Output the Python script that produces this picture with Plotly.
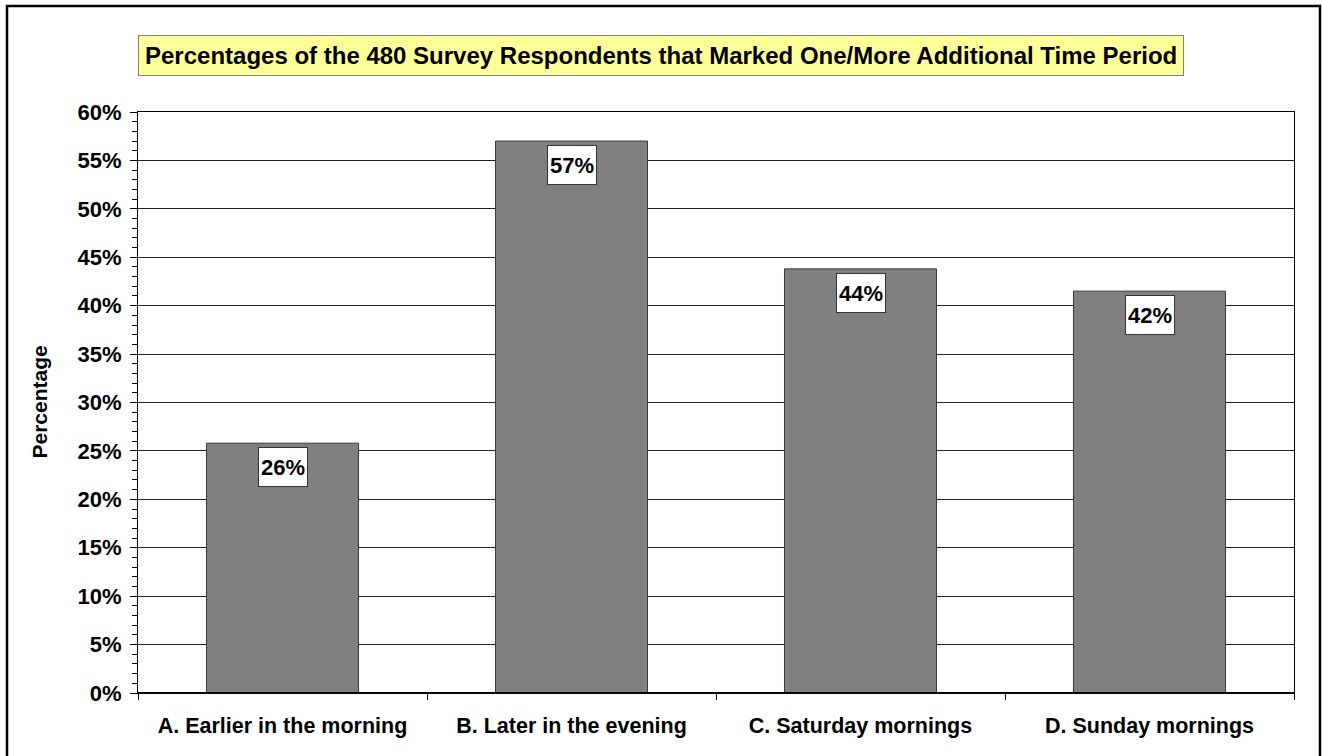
import plotly.graph_objects as go

# Survey results: share of the 480 respondents marking each extra time period
categories = [
    "A. Earlier in the morning",
    "B. Later in the evening",
    "C. Saturday mornings",
    "D. Sunday mornings",
]
percentages = [25.8, 57.0, 43.8, 41.5]

title_text = "Percentages of the 480 Survey Respondents that Marked One/More Additional Time Period"
y_title = "Percentage"
y_ticks = [0, 5, 10, 15, 20, 25, 30, 35, 40, 45, 50, 55, 60]

FONT = "Arial, 'Liberation Sans', Helvetica, sans-serif"
W, H = 1322, 756
ML, MR, MT, MB = 138, 28, 112, 63
PW = W - ML - MR
PH = H - MT - MB


def px_to_paper_x(px):
    return (px - ML) / PW


def px_to_paper_y(py):
    return (H - MB - py) / PH


def label_for(v):
    return f"{int(v + 0.5)}%"


fig = go.Figure()
fig.add_trace(
    go.Bar(
        x=categories,
        y=percentages,
        marker=dict(color="#808080", line=dict(color="#3a3a3a", width=1)),
        hoverinfo="skip",
    )
)

# Value labels in white boxes just inside the top of each bar
for cat, val in zip(categories, percentages):
    fig.add_annotation(
        x=cat,
        y=val,
        xref="x",
        yref="y",
        text=f"<b>{label_for(val)}</b>",
        showarrow=False,
        yanchor="top",
        yshift=-4,
        font=dict(family=FONT, size=22, color="black"),
        bgcolor="white",
        bordercolor="#333333",
        borderwidth=1,
        borderpad=1,
        width=46,
        height=36,
    )

# Title in a pale-yellow box
fig.add_annotation(
    x=px_to_paper_x(661),
    y=px_to_paper_y(55),
    xref="paper",
    yref="paper",
    text=f"<b>{title_text}</b>",
    showarrow=False,
    xanchor="center",
    yanchor="middle",
    font=dict(family=FONT, size=24, color="black"),
    bgcolor="#FFFF99",
    bordercolor="#808080",
    borderwidth=1,
    borderpad=6,
)

# Vertical axis title
fig.add_annotation(
    x=px_to_paper_x(39),
    y=0.5,
    xref="paper",
    yref="paper",
    text=f"<b>{y_title}</b>",
    textangle=-90,
    showarrow=False,
    xanchor="center",
    yanchor="middle",
    font=dict(family=FONT, size=21, color="black"),
)

# Outer chart frame
fig.add_shape(
    type="rect",
    xref="paper",
    yref="paper",
    x0=px_to_paper_x(7),
    x1=px_to_paper_x(1320),
    y0=px_to_paper_y(770),
    y1=px_to_paper_y(6),
    line=dict(color="black", width=2.5),
    fillcolor="rgba(0,0,0,0)",
    layer="below",
)

# Heavier baseline along the category axis
fig.add_shape(
    type="line",
    xref="paper",
    yref="y",
    x0=0,
    x1=1,
    y0=0,
    y1=0,
    line=dict(color="black", width=2),
)

fig.update_layout(
    width=W,
    height=H,
    margin=dict(l=ML, r=MR, t=MT, b=MB, pad=0),
    paper_bgcolor="white",
    plot_bgcolor="white",
    showlegend=False,
    bargap=0.474,
    font=dict(family=FONT, size=21, color="black"),
)

fig.update_xaxes(
    type="category",
    showline=True,
    linecolor="black",
    linewidth=1,
    mirror=True,
    ticks="outside",
    tickson="boundaries",
    ticklen=6,
    tickcolor="black",
    tickfont=dict(family=FONT, size=21.5, color="black", weight="bold"),
    ticklabelstandoff=13,
    showgrid=False,
)

fig.update_yaxes(
    range=[0, 60],
    tickvals=y_ticks,
    ticktext=[f"{t}%" for t in y_ticks],
    showline=True,
    linecolor="black",
    linewidth=1,
    mirror=True,
    ticks="outside",
    ticklen=7,
    tickcolor="black",
    tickfont=dict(family=FONT, size=22, color="black", weight="bold"),
    ticklabelstandoff=4,
    showgrid=True,
    gridcolor="#222222",
    gridwidth=1,
    zeroline=False,
    minor=dict(dtick=1, ticks="outside", ticklen=5, tickcolor="black", showgrid=False),
)

fig.write_html("out.html")
